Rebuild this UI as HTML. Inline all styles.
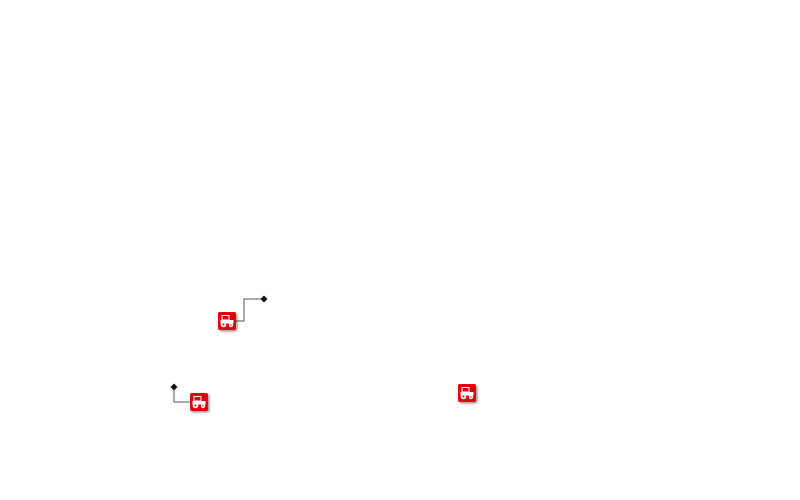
<!DOCTYPE html>
<html><head><style>html,body{margin:0;padding:0;background:#fff;width:800px;height:500px;overflow:hidden}</style></head>
<body>
<svg width="800" height="500" xmlns="http://www.w3.org/2000/svg">
<defs>
<filter id="sh" x="-30%" y="-30%" width="170%" height="170%"><feDropShadow dx="1.5" dy="1.5" stdDeviation="1" flood-color="#000" flood-opacity="0.4"/></filter>
<g id="ic">
<rect x="0" y="0" width="18" height="18" rx="2" fill="#e0000f" filter="url(#sh)"/>
<rect x="4" y="3.5" width="7" height="4.5" fill="none" stroke="#fff" stroke-width="1"/>
<rect x="2.5" y="8" width="13" height="3.5" fill="#fff"/>
<circle cx="5.5" cy="12.5" r="2.8" fill="#fff"/><circle cx="5.5" cy="12.5" r="1" fill="#e0000f"/>
<circle cx="13" cy="13" r="2.2" fill="#fff"/><circle cx="13" cy="13" r="0.7" fill="#e0000f"/>
</g>
</defs>
<polyline points="236,321 244,321 244,299 264,299" fill="none" stroke="#555" stroke-width="1"/>
<polygon points="264,295.5 267.5,299 264,302.5 260.5,299" fill="#111"/>
<polyline points="174,387 174,402 190,402" fill="none" stroke="#555" stroke-width="1"/>
<polygon points="174,383.5 177.5,387 174,390.5 170.5,387" fill="#111"/>
<use href="#ic" x="218" y="312"/>
<use href="#ic" x="190" y="393"/>
<use href="#ic" x="458" y="384"/>
</svg>
</body></html>
